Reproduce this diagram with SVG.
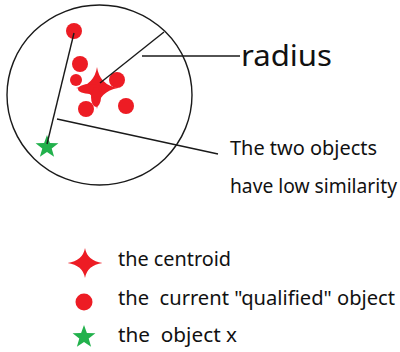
<svg xmlns="http://www.w3.org/2000/svg" width="400" height="352" viewBox="0 0 400 352">
<style>
.ln{stroke:#1a1a1a;stroke-width:1.4;fill:none}
.red{fill:#ed1c24}
.grn{fill:#22b14c}
.t{font-family:"Noto Sans","Liberation Sans",sans-serif;fill:#111;white-space:pre}
</style>
<defs>
<path id="cstar" d="M0,-15 Q2.2,-2.2 17.5,0 Q2.2,2.2 0,15 Q-2.2,2.2 -17.5,0 Q-2.2,-2.2 0,-15 Z"/>
<polygon id="gstar" points="0,-12 2.9,-4 11.4,-3.7 4.7,1.5 7.1,9.7 0,5 -7.1,9.7 -4.7,1.5 -11.4,-3.7 -2.9,-4"/>
</defs>
<rect width="400" height="352" fill="#fff"/>
<g id="cluster">
<ellipse cx="99.5" cy="95" rx="92.5" ry="90" class="ln"/>
</g>
<g id="objects">
<circle cx="74" cy="31" r="8" class="red"/>
<circle cx="80" cy="64" r="8" class="red"/>
<circle cx="117" cy="80" r="8" class="red"/>
<circle cx="126" cy="106" r="8" class="red"/>
<circle cx="86" cy="109" r="8" class="red"/>
<circle cx="76" cy="80" r="6" class="red"/>
</g>
<g id="centroid">
<use href="#cstar" transform="translate(97,88) scale(1.2,1.4)" class="red"/>
<ellipse cx="90" cy="89" rx="12" ry="5" class="red"/>
<ellipse cx="96" cy="97" rx="5" ry="10" class="red"/>
</g>
<g id="objectx">
<use href="#gstar" x="47" y="147" class="grn"/>
</g>
<g id="connectors">
<line x1="100" y1="83" x2="164" y2="32" class="ln"/>
<line x1="142" y1="56" x2="240" y2="56" class="ln"/>
<line x1="74" y1="33" x2="47" y2="144" class="ln"/>
<line x1="57" y1="119" x2="218" y2="154" class="ln"/>
</g>
<g id="labels">
<text x="241" y="66" class="t" font-size="29" textLength="91" lengthAdjust="spacingAndGlyphs">radius</text>
<text x="230" y="155" class="t" font-size="19" textLength="147" lengthAdjust="spacingAndGlyphs">The two objects</text>
<text x="230" y="193" class="t" font-size="19" textLength="167" lengthAdjust="spacingAndGlyphs">have low similarity</text>
</g>
<g id="legend">
<use href="#cstar" x="85" y="263" class="red"/>
<text x="118" y="266" class="t" font-size="19" textLength="113" lengthAdjust="spacingAndGlyphs">the centroid</text>
<circle cx="84" cy="302" r="8.5" class="red"/>
<text x="118" y="305" class="t" font-size="19" textLength="277" lengthAdjust="spacingAndGlyphs">the  current "qualified" object</text>
<use href="#gstar" x="84" y="337" class="grn"/>
<text x="118" y="342" class="t" font-size="19" textLength="119" lengthAdjust="spacingAndGlyphs">the  object x</text>
</g>
</svg>
